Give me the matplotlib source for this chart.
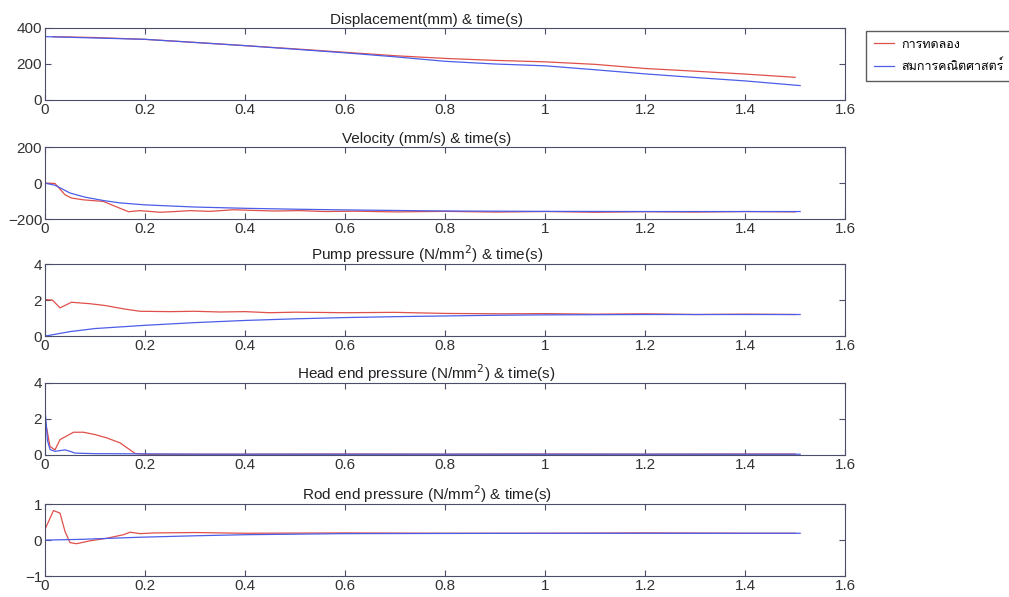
import matplotlib
matplotlib.use('Agg')
import matplotlib.pyplot as plt

plt.rcParams['font.family'] = ['Liberation Sans', 'DejaVu Sans']

# time (s) and values
# red = experiment, blue = mathematical model
disp_t_red = [0.016, 0.1, 0.2, 0.3, 0.4, 0.5, 0.6, 0.7, 0.8, 0.9, 1.0, 1.1, 1.2, 1.3, 1.4, 1.5]
disp_red = [352, 347, 337, 320, 302, 284, 265, 246, 231, 220, 212, 198, 175, 160, 144, 126]
disp_t_blue = [0.0, 0.2, 0.4, 0.6, 0.7, 0.8, 0.9, 1.0, 1.1, 1.2, 1.3, 1.4, 1.51]
disp_blue = [352, 337, 302, 262, 240, 215, 200, 190, 168, 145, 125, 106, 80]

vel_t_red = [0.0, 0.02, 0.04, 0.053, 0.077, 0.117, 0.15, 0.167, 0.19, 0.23, 0.26, 0.29,
             0.33, 0.377, 0.42, 0.46, 0.51, 0.56, 0.62, 0.7, 0.8, 0.9, 1.0, 1.1, 1.2,
             1.3, 1.4, 1.5]
vel_red = [0, -2, -65, -83, -93, -102, -140, -159, -153, -162, -158, -153, -157, -148,
           -152, -155, -153, -158, -156, -160, -157, -161, -158, -162, -159, -161, -158, -160]
vel_t_blue = [0.0, 0.02, 0.05, 0.08, 0.117, 0.15, 0.2, 0.3, 0.4, 0.5, 0.6, 0.8, 1.0, 1.2, 1.51]
vel_blue = [0, -12, -55, -78, -97, -110, -121, -133, -140, -145, -149, -155, -157, -158, -158]

pump_t_red = [0.0, 0.015, 0.03, 0.053, 0.09, 0.12, 0.16, 0.19, 0.25, 0.3, 0.35, 0.4,
              0.45, 0.5, 0.6, 0.7, 0.8, 0.91, 1.0, 1.1, 1.2, 1.3, 1.4, 1.5]
pump_red = [2.03, 2.0, 1.57, 1.88, 1.8, 1.7, 1.5, 1.38, 1.36, 1.38, 1.34, 1.36,
            1.30, 1.33, 1.30, 1.32, 1.26, 1.24, 1.25, 1.22, 1.24, 1.20, 1.22, 1.20]
pump_t_blue = [0.0, 0.02, 0.05, 0.1, 0.2, 0.3, 0.4, 0.5, 0.6, 0.7, 0.8, 0.91, 1.0, 1.2, 1.51]
pump_blue = [0.0, 0.1, 0.25, 0.42, 0.6, 0.75, 0.87, 0.96, 1.03, 1.08, 1.12, 1.16, 1.18, 1.2, 1.2]

head_t_red = [0.0, 0.01, 0.02, 0.03, 0.057, 0.077, 0.1, 0.123, 0.15, 0.17, 0.18,
              0.2, 0.4, 0.6, 0.8, 1.0, 1.2, 1.4, 1.5]
head_red = [2.0, 0.47, 0.28, 0.85, 1.26, 1.26, 1.13, 0.95, 0.67, 0.28, 0.08,
            0.04, 0.04, 0.05, 0.04, 0.05, 0.04, 0.05, 0.05]
head_t_blue = [0.0, 0.001, 0.005, 0.01, 0.02, 0.04, 0.05, 0.06, 0.1, 0.18, 0.3, 0.6, 1.0, 1.51]
head_blue = [0.0, 2.2, 0.8, 0.3, 0.2, 0.28, 0.2, 0.1, 0.07, 0.06, 0.04, 0.04, 0.04, 0.04]

rod_t_red = [0.0, 0.017, 0.03, 0.04, 0.05, 0.063, 0.09, 0.123, 0.157, 0.17,
             0.19, 0.22, 0.3, 0.4, 0.6, 0.8, 1.0, 1.2, 1.4, 1.5]
rod_red = [0.3, 0.82, 0.75, 0.24, -0.07, -0.1, -0.02, 0.05, 0.15, 0.22,
           0.18, 0.2, 0.21, 0.19, 0.2, 0.19, 0.19, 0.2, 0.19, 0.19]
rod_t_blue = [0.0, 0.07, 0.19, 0.3, 0.4, 0.6, 1.0, 1.51]
rod_blue = [0.0, 0.02, 0.08, 0.12, 0.15, 0.18, 0.19, 0.19]

titles = ['Displacement(mm) & time(s)',
          'Velocity (mm/s) & time(s)',
          'Pump pressure (N/mm$^2$) & time(s)',
          'Head end pressure (N/mm$^2$) & time(s)',
          'Rod end pressure (N/mm$^2$) & time(s)']
yticks = [[0, 200, 400], [-200, 0, 200], [0, 2, 4], [0, 2, 4], [-1, 0, 1]]
xticks = [0, 0.2, 0.4, 0.6, 0.8, 1, 1.2, 1.4, 1.6]
xticklabels = ['0', '0.2', '0.4', '0.6', '0.8', '1', '1.2', '1.4', '1.6']
legend_labels = ['การทดลอง', 'สมการคณิตศาสตร์']

series = [(disp_t_red, disp_red, disp_t_blue, disp_blue),
          (vel_t_red, vel_red, vel_t_blue, vel_blue),
          (pump_t_red, pump_red, pump_t_blue, pump_blue),
          (head_t_red, head_red, head_t_blue, head_blue),
          (rod_t_red, rod_red, rod_t_blue, rod_blue)]

red = '#e0504a'
blue = '#4a5ee8'
edge = '#4a4e68'

fig = plt.figure(figsize=(10.09, 5.97), dpi=100)
bottoms = [0.8325, 0.633, 0.437, 0.238, 0.035]

for i, (tr, yr, tb, yb) in enumerate(series):
    ax = fig.add_axes([0.0446, bottoms[i], 0.793, 0.1206])
    l1, = ax.plot(tr, yr, color=red, lw=0.9)
    l2, = ax.plot(tb, yb, color=blue, lw=0.9)
    ax.set_xlim(0, 1.6)
    ax.set_ylim(yticks[i][0], yticks[i][-1])
    ax.set_xticks(xticks)
    ax.set_xticklabels(xticklabels)
    ax.set_yticks(yticks[i])
    ax.tick_params(direction='in', top=True, right=True, length=4, width=0.8,
                   color=edge, labelcolor='#333333', labelsize=11, pad=2)
    for s in ax.spines.values():
        s.set_color(edge)
        s.set_linewidth(0.8)
    ax.set_title(titles[i], fontsize=11, color='#222222', pad=3, x=0.477)

fig.legend([l1, l2], legend_labels, loc='upper left',
           bbox_to_anchor=(866 / 1009, 1 - 31 / 597),
           prop={'family': ['Loma', 'Noto Sans Thai', 'DejaVu Sans'], 'size': 9},
           frameon=True, fancybox=False, edgecolor='#333333',
           handlelength=1.6, handletextpad=0.6, borderpad=0.6,
           labelspacing=0.75, borderaxespad=0)

fig.savefig('out.png', dpi=100)
